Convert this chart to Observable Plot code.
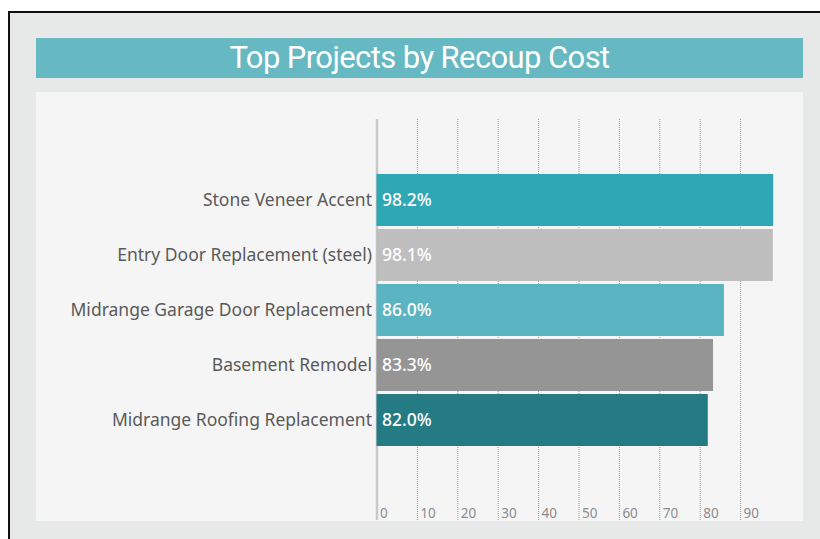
<!DOCTYPE html>
<html><head><meta charset="utf-8">
<script src="https://cdn.jsdelivr.net/npm/d3@7"></script>
<script src="https://cdn.jsdelivr.net/npm/@observablehq/plot@0.6"></script>
<style>
html,body{margin:0;padding:0;background:#fff;width:820px;height:539px;overflow:hidden;}
#frame{position:absolute;left:8px;top:11px;width:830px;height:540px;border-left:2px solid #111;border-top:2px solid #111;background:#e7e8e8;}
#title{position:absolute;left:36px;top:38px;width:767px;height:40px;background:#66b8c2;color:#fff;font-family:Roboto;font-size:31px;text-align:center;line-height:40px;letter-spacing:-0.6px;}
#panel{position:absolute;left:36px;top:92px;width:767px;height:429px;background:#f5f5f5;}
#chart{position:absolute;left:0;top:0;}
</style></head>
<body>
<div id="frame"></div>
<div id="title">Top Projects by Recoup Cost</div>
<div id="panel"></div>
<div id="chart"></div>
<script>
const categories = ["Stone Veneer Accent", "Entry Door Replacement (steel)", "Midrange Garage Door Replacement", "Basement Remodel", "Midrange Roofing Replacement"];
const values = [98.2, 98.1, 86.0, 83.3, 82.0];
const barColors = ["#2fa7b4", "#bebebe", "#5bb4c2", "#959595", "#247b84"];
const ticks = [0, 10, 20, 30, 40, 50, 60, 70, 80, 90];
const tickLabels = ["0", "10", "20", "30", "40", "50", "60", "70", "80", "90"];

const data = categories.map((c, i) => ({project: c, value: values[i], color: barColors[i]}));
const tickData = ticks.map((t, i) => ({t, label: tickLabels[i]}));

const chart = Plot.plot({
  width: 820, height: 539,
  marginTop: 119, marginBottom: 19, marginLeft: 376, marginRight: 40,
  x: {domain: [0, 100], range: [376.5, 780.5], axis: null},
  y: {domain: categories, range: [169.5, 450], padding: 0.06, axis: null},
  color: {type: "identity"},
  style: {background: "transparent", fontFamily: "Noto Sans"},
  marks: [
    Plot.ruleX(ticks.slice(1), {stroke: "#9a9a9a", strokeDasharray: "1,1", strokeWidth: 1}),
    Plot.ruleX([0], {stroke: "#c9c9c9", strokeWidth: 2.5}),
    Plot.barX(data, {x: "value", y: "project", fill: d => d.color}),
    Plot.text(data, {x: 0, y: "project", text: d => d.value.toFixed(1) + "%", textAnchor: "start", dx: 5, fill: "#ffffff", fontSize: 17.5, fontWeight: 500}),
    Plot.text(data, {x: 0, y: "project", text: "project", textAnchor: "end", dx: -5, fill: "#5a5a5a", fontSize: 17.5}),
    Plot.text(tickData, {x: "t", frameAnchor: "bottom", text: "label", textAnchor: "start", lineAnchor: "bottom", dx: 3, dy: -3, fill: "#8c8c8c", fontSize: 13.5})
  ]
});
document.getElementById("chart").appendChild(chart);
</script>
</body></html>
